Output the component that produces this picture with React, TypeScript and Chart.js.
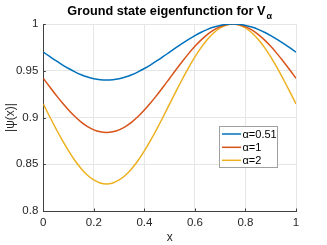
import React, { useEffect, useRef } from "react";
import { Chart, registerables } from "chart.js";

Chart.register(...registerables);

const xValues = [
  0, 0.025, 0.05, 0.075, 0.1, 0.125, 0.15, 0.175, 0.2, 0.225, 0.25,
  0.275, 0.3, 0.325, 0.35, 0.375, 0.4, 0.425, 0.45, 0.475, 0.5,
  0.525, 0.55, 0.575, 0.6, 0.625, 0.65, 0.675, 0.7, 0.725, 0.75,
  0.775, 0.8, 0.825, 0.85, 0.875, 0.9, 0.925, 0.95, 0.975, 1,
];
const alpha051 = [
  0.9700, 0.9653, 0.9607, 0.9564, 0.9524, 0.9488, 0.9457, 0.9433, 0.9415, 0.9404, 0.9400,
  0.9404, 0.9415, 0.9433, 0.9457, 0.9488, 0.9524, 0.9564, 0.9607, 0.9653, 0.9700,
  0.9747, 0.9793, 0.9836, 0.9876, 0.9912, 0.9943, 0.9967, 0.9985, 0.9996, 1.0000,
  0.9996, 0.9985, 0.9967, 0.9943, 0.9912, 0.9876, 0.9836, 0.9793, 0.9747, 0.9700,
];
const alpha1 = [
  0.9420, 0.9329, 0.9241, 0.9157, 0.9079, 0.9010, 0.8951, 0.8903, 0.8868, 0.8847, 0.8840,
  0.8847, 0.8868, 0.8903, 0.8951, 0.9010, 0.9079, 0.9157, 0.9241, 0.9329, 0.9420,
  0.9511, 0.9599, 0.9683, 0.9761, 0.9830, 0.9889, 0.9937, 0.9972, 0.9993, 1.0000,
  0.9993, 0.9972, 0.9937, 0.9889, 0.9830, 0.9761, 0.9683, 0.9599, 0.9511, 0.9420,
];
const alpha2 = [
  0.9145, 0.9011, 0.8881, 0.8757, 0.8642, 0.8540, 0.8453, 0.8383, 0.8332, 0.8300, 0.8290,
  0.8300, 0.8332, 0.8383, 0.8453, 0.8540, 0.8642, 0.8757, 0.8881, 0.9011, 0.9145,
  0.9279, 0.9409, 0.9533, 0.9648, 0.9750, 0.9837, 0.9907, 0.9958, 0.9990, 1.0000,
  0.9990, 0.9958, 0.9907, 0.9837, 0.9750, 0.9648, 0.9533, 0.9409, 0.9279, 0.9145,
];
const seriesLabels = ["α=0.51", "α=1", "α=2"];
const seriesColors = ["#0072BD", "#D95319", "#EDB120"];
const titleMain = "Ground state eigenfunction for V";
const titleSub = "α";
const xTitle = "x";
const yTitle = "|ψ(x)|";

const FONT = "'Liberation Sans', Arial, Helvetica, sans-serif";
const TEXT = "#262626";

const fmt = (v: number) => String(+Number(v).toFixed(2));

const overlayPlugin = {
  id: "overlay",
  afterDraw(chart: any) {
    const ctx = chart.ctx as CanvasRenderingContext2D;
    const area = chart.chartArea;
    const xs = chart.scales.x;
    const ys = chart.scales.y;
    ctx.save();
    // inward ticks
    ctx.strokeStyle = "#404040";
    ctx.lineWidth = 1;
    ctx.beginPath();
    ys.ticks.forEach((t: any) => {
      const y = Math.round(ys.getPixelForValue(t.value)) + 0.5;
      ctx.moveTo(area.left, y);
      ctx.lineTo(area.left + 2.5, y);
    });
    xs.ticks.forEach((t: any) => {
      const x = Math.round(xs.getPixelForValue(t.value)) + 0.5;
      ctx.moveTo(x, area.bottom);
      ctx.lineTo(x, area.bottom - 2.5);
    });
    ctx.stroke();

    // title
    ctx.fillStyle = "#000";
    ctx.textBaseline = "alphabetic";
    ctx.textAlign = "left";
    const mainFont = `bold 12.7px ${FONT}`;
    const subFont = `bold 9px ${FONT}`;
    ctx.font = mainFont;
    const w1 = ctx.measureText(titleMain).width;
    ctx.font = subFont;
    const w2 = ctx.measureText(titleSub).width;
    const cx = (area.left + area.right) / 2;
    const sx = cx - (w1 + w2 + 1) / 2;
    ctx.font = mainFont;
    ctx.fillText(titleMain, sx, 14.5);
    ctx.font = subFont;
    ctx.fillText(titleSub, sx + w1 + 1, 18.5);

    // legend
    const bx = 219.5, by = 126.5, bw = 58, bh = 41;
    ctx.fillStyle = "#fff";
    ctx.fillRect(bx, by, bw, bh);
    ctx.strokeStyle = "#a0a0a0";
    ctx.lineWidth = 1;
    ctx.strokeRect(bx, by, bw, bh);
    const rows = [134, 147.3, 160.3];
    ctx.font = `11px ${FONT}`;
    ctx.textBaseline = "middle";
    seriesLabels.forEach((lab, i) => {
      ctx.strokeStyle = seriesColors[i];
      ctx.lineWidth = 1.5;
      ctx.beginPath();
      ctx.moveTo(222, rows[i]);
      ctx.lineTo(241, rows[i]);
      ctx.stroke();
      ctx.fillStyle = "#000";
      ctx.fillText(lab, 242.5, rows[i] + 0.5);
    });
    ctx.restore();
  },
};

export default function App() {
  const ref = useRef<HTMLCanvasElement | null>(null);
  useEffect(() => {
    if (!ref.current) return;
    Chart.defaults.font.family = FONT;
    const series = [alpha051, alpha1, alpha2];
    const chart = new Chart(ref.current, {
      type: "line",
      data: {
        datasets: series.map((vals, i) => ({
          label: seriesLabels[i],
          data: xValues.map((x, j) => ({ x, y: vals[j] })),
          borderColor: seriesColors[i],
          backgroundColor: seriesColors[i],
          borderWidth: 1.5,
          pointRadius: 0,
          tension: 0.4,
          fill: false,
        })),
      },
      options: {
        animation: false,
        responsive: false,
        devicePixelRatio: 1,
        layout: { padding: { top: 24, right: 31, left: 0, bottom: 0 } },
        plugins: {
          legend: { display: false },
          title: { display: false },
          tooltip: { enabled: false },
        },
        scales: {
          x: {
            type: "linear",
            min: 0,
            max: 1,
            ticks: {
              stepSize: 0.2,
              color: TEXT,
              font: { size: 11.5 },
              padding: 5,
              maxRotation: 0,
              callback: (v: any) => fmt(v),
            },
            grid: { color: "#e6e6e6", drawTicks: false, lineWidth: 1 },
            border: { color: "#404040", width: 1 },
            title: {
              display: true,
              text: xTitle,
              color: TEXT,
              font: { size: 12 },
              padding: { top: 0, bottom: 0 },
            },
            afterFit: (s: any) => {
              s.height = 34;
            },
          },
          y: {
            type: "linear",
            min: 0.8,
            max: 1,
            ticks: {
              stepSize: 0.05,
              color: TEXT,
              font: { size: 11.5 },
              padding: 5,
              callback: (v: any) => fmt(v),
            },
            grid: { color: "#e6e6e6", drawTicks: false, lineWidth: 1 },
            border: { color: "#404040", width: 1 },
            title: {
              display: true,
              text: yTitle,
              color: TEXT,
              font: { size: 12 },
              padding: { top: 3, bottom: 0 },
            },
            afterFit: (s: any) => {
              s.width = 43.3;
            },
          },
        },
      },
      plugins: [overlayPlugin],
    });
    return () => chart.destroy();
  }, []);
  return (
    <div style={{ position: "absolute", left: 0, top: 0, width: 327, height: 245, background: "#fff" }}>
      <canvas ref={ref} width={327} height={245} style={{ display: "block" }} />
    </div>
  );
}
